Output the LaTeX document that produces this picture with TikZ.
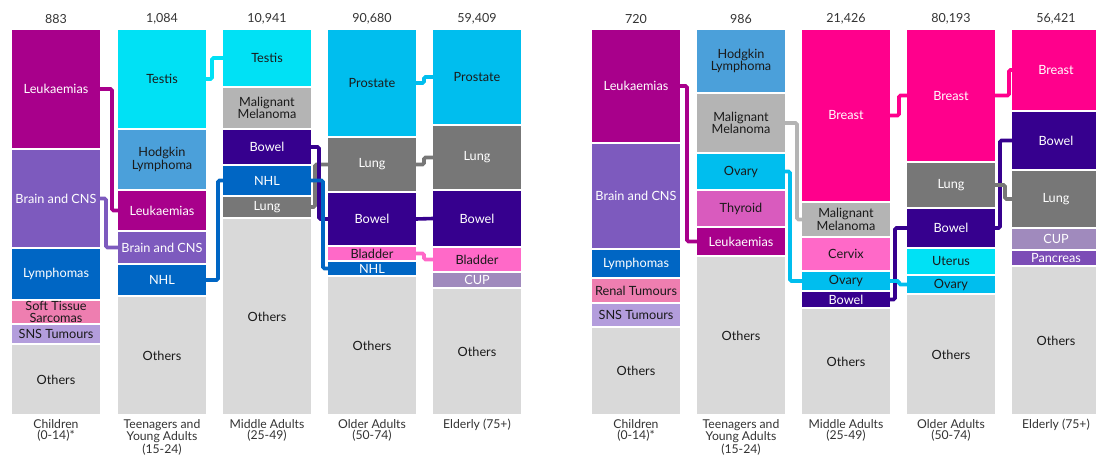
\documentclass[tikz,border=0pt]{standalone}
\usepackage{fontspec}
\setmainfont{Lato}
\usetikzlibrary{calc}
\pgfdeclarelayer{background}
\pgfsetlayers{background,main}
\definecolor{cLeuk}{HTML}{A8008B}
\definecolor{cBrain}{HTML}{7D5ABE}
\definecolor{cNHL}{HTML}{0066C4}
\definecolor{cSoft}{HTML}{EE7EB0}
\definecolor{cSNS}{HTML}{B39DDC}
\definecolor{cOth}{HTML}{D9D9D9}
\definecolor{cTestis}{HTML}{00E1F5}
\definecolor{cHodg}{HTML}{4BA0DA}
\definecolor{cMM}{HTML}{B4B4B4}
\definecolor{cBowel}{HTML}{36008E}
\definecolor{cLung}{HTML}{777777}
\definecolor{cProst}{HTML}{00BEEE}
\definecolor{cBlad}{HTML}{FF69C8}
\definecolor{cCUP}{HTML}{A08ABD}
\definecolor{cThyr}{HTML}{D95BBE}
\definecolor{cBreast}{HTML}{FF008C}
\definecolor{cPanc}{HTML}{7C4DB6}
\definecolor{cTxt}{HTML}{1A1A1A}
\definecolor{cNum}{HTML}{333333}
\tikzset{
  segbox/.style={rectangle, draw=none, inner sep=0pt, outer sep=0pt, minimum width=88pt, anchor=north west},
  seglbl/.style={inner sep=0pt, align=center, font=\fontsize{12.7}{10.5}\selectfont},
  cn/.style={line width=3.6pt, rounded corners=1.5pt},
  total/.style={inner sep=0pt, font=\fontsize{12.5}{14}\selectfont, text=cNum},
  grp/.style={anchor=north, inner sep=0pt, align=center, font=\fontsize{12.2}{11}\selectfont, text=cNum},
}
\newcommand{\seg}[7]{%
  \node[segbox, fill=#5, minimum height={#4pt-#3pt}] (#1) at (#2,#3) {};
  \node[seglbl, text=#6] (#1t) at (#1.center) {#7};}
\begin{document}
\begin{tikzpicture}[x=1pt,y=-1pt]
\useasboundingbox (0,0) rectangle (1096,455);
% ---------- left panel ----------
\seg{a1leuk}{12}{30}{148}{cLeuk}{white}{Leukaemias}
\seg{a1brain}{12}{150}{247}{cBrain}{white}{Brain and CNS}
\seg{a1lymph}{12}{249}{299}{cNHL}{white}{Lymphomas}
\seg{a1soft}{12}{301}{323}{cSoft}{cTxt}{Soft Tissue\\[0.8pt]Sarcomas}
\seg{a1sns}{12}{325}{343}{cSNS}{cTxt}{SNS Tumours}
\seg{a1oth}{12}{345}{414}{cOth}{cTxt}{Others}

\seg{a2testis}{118}{30}{128}{cTestis}{cTxt}{Testis}
\seg{a2hodg}{118}{130}{189}{cHodg}{cTxt}{Hodgkin\\Lymphoma}
\seg{a2leuk}{118}{191}{230}{cLeuk}{white}{Leukaemias}
\seg{a2brain}{118}{232}{263}{cBrain}{white}{Brain and CNS}
\seg{a2nhl}{118}{265}{295}{cNHL}{white}{NHL}
\seg{a2oth}{118}{297}{414}{cOth}{cTxt}{Others}

\seg{a3testis}{223}{30}{86}{cTestis}{cTxt}{Testis}
\seg{a3mm}{223}{88}{128}{cMM}{cTxt}{Malignant\\Melanoma}
\seg{a3bowel}{223}{130}{164}{cBowel}{white}{Bowel}
\seg{a3nhl}{223}{166}{195}{cNHL}{white}{NHL}
\seg{a3lung}{223}{197}{217}{cLung}{white}{Lung}
\seg{a3oth}{223}{219}{414}{cOth}{cTxt}{Others}

\seg{a4prost}{328}{30}{136}{cProst}{cTxt}{Prostate}
\seg{a4lung}{328}{138}{191}{cLung}{white}{Lung}
\seg{a4bowel}{328}{193}{245}{cBowel}{white}{Bowel}
\seg{a4blad}{328}{247}{260}{cBlad}{cTxt}{Bladder}
\seg{a4nhl}{328}{262}{275}{cNHL}{white}{NHL}
\seg{a4oth}{328}{277}{414}{cOth}{cTxt}{Others}

\seg{a5prost}{433}{30}{124}{cProst}{cTxt}{Prostate}
\seg{a5lung}{433}{126}{189}{cLung}{white}{Lung}
\seg{a5bowel}{433}{191}{246}{cBowel}{white}{Bowel}
\seg{a5blad}{433}{248}{271}{cBlad}{cTxt}{Bladder}
\seg{a5cup}{433}{273}{287}{cCUP}{white}{CUP}
\seg{a5oth}{433}{289}{414}{cOth}{cTxt}{Others}

% ---------- right panel ----------
\seg{b1leuk}{592}{30}{142}{cLeuk}{white}{Leukaemias}
\seg{b1brain}{592}{144}{248}{cBrain}{white}{Brain and CNS}
\seg{b1lymph}{592}{250}{277}{cNHL}{white}{Lymphomas}
\seg{b1renal}{592}{279}{302}{cSoft}{cTxt}{Renal Tumours}
\seg{b1sns}{592}{304}{326}{cSNS}{cTxt}{SNS Tumours}
\seg{b1oth}{592}{328}{414}{cOth}{cTxt}{Others}

\seg{b2hodg}{697}{30}{92}{cHodg}{cTxt}{Hodgkin\\Lymphoma}
\seg{b2mm}{697}{94}{152}{cMM}{cTxt}{Malignant\\Melanoma}
\seg{b2ovary}{697}{154}{189}{cProst}{cTxt}{Ovary}
\seg{b2thyr}{697}{191}{226}{cThyr}{cTxt}{Thyroid}
\seg{b2leuk}{697}{228}{255}{cLeuk}{white}{Leukaemias}
\seg{b2oth}{697}{257}{414}{cOth}{cTxt}{Others}

\seg{b3breast}{802}{30}{201}{cBreast}{white}{Breast}
\seg{b3mm}{802}{203}{236}{cMM}{cTxt}{Malignant\\Melanoma}
\seg{b3cervix}{802}{238}{270}{cBlad}{cTxt}{Cervix}
\seg{b3ovary}{802}{272}{290}{cProst}{cTxt}{Ovary}
\seg{b3bowel}{802}{292}{307}{cBowel}{white}{Bowel}
\seg{b3oth}{802}{309}{414}{cOth}{cTxt}{Others}

\seg{b4breast}{907}{30}{161}{cBreast}{white}{Breast}
\seg{b4lung}{907}{163}{207}{cLung}{white}{Lung}
\seg{b4bowel}{907}{209}{247}{cBowel}{white}{Bowel}
\seg{b4uterus}{907}{249}{274}{cTestis}{cTxt}{Uterus}
\seg{b4ovary}{907}{276}{293}{cProst}{cTxt}{Ovary}
\seg{b4oth}{907}{295}{414}{cOth}{cTxt}{Others}

\seg{b5breast}{1012}{30}{110}{cBreast}{white}{Breast}
\seg{b5bowel}{1012}{112}{169}{cBowel}{white}{Bowel}
\seg{b5lung}{1012}{171}{227}{cLung}{white}{Lung}
\seg{b5cup}{1012}{229}{249}{cCUP}{white}{CUP}
\seg{b5panc}{1012}{251}{265}{cPanc}{white}{Pancreas}
\seg{b5oth}{1012}{267}{414}{cOth}{cTxt}{Others}

% ---------- totals ----------
\node[total] (t1) at (56,19) {883};
\node[total] (t2) at (162,19) {1,084};
\node[total] (t3) at (267,19) {10,941};
\node[total] (t4) at (372,19) {90,680};
\node[total] (t5) at (477,19) {59,409};
\node[total] (t6) at (636,19) {720};
\node[total] (t7) at (741,19) {986};
\node[total] (t8) at (846,19) {21,426};
\node[total] (t9) at (951,19) {80,193};
\node[total] (t10) at (1056,19) {56,421};

% ---------- group labels ----------
\node[grp] (g1) at (56,419) {Children\\(0-14)*};
\node[grp] (g2) at (162,419) {Teenagers and\\Young Adults\\(15-24)};
\node[grp] (g3) at (267,419) {Middle Adults\\(25-49)};
\node[grp] (g4) at (372,419) {Older Adults\\(50-74)};
\node[grp] (g5) at (477,419) {Elderly (75+)};
\node[grp] (g6) at (636,419) {Children\\(0-14)*};
\node[grp] (g7) at (741,419) {Teenagers and\\Young Adults\\(15-24)};
\node[grp] (g8) at (846,419) {Middle Adults\\(25-49)};
\node[grp] (g9) at (951,419) {Older Adults\\(50-74)};
\node[grp] (g10) at (1056,419) {Elderly (75+)};

% ---------- connectors ----------
\begin{pgfonlayer}{background}
\draw[cn, cLeuk] (a1leuk.east) -- ($(a1leuk.east)+(12,0)$) |- (a2leuk.west);
\draw[cn, cBrain] (a1brain.east) -- ($(a1brain.east)+(6,0)$) |- (a2brain.west);
\draw[cn, cTestis] (a2testis.east) -- ($(a2testis.east)+(6,0)$) |- (a3testis.west);
\draw[cn, cNHL] (a2nhl.east) -- ($(a2nhl.east)+(12,0)$) |- (a3nhl.west);
\draw[cn, cLung] (a3lung.east) -- ($(a3lung.east)+(4,0)$) |- (a4lung.west);
\draw[cn, cBowel] (a3bowel.east) -- ($(a3bowel.east)+(8,0)$) |- (a4bowel.west);
\draw[cn, cNHL] (a3nhl.east) -- ($(a3nhl.east)+(12,0)$) |- (a4nhl.west);
\draw[cn, cProst] (a4prost.east) -- ($(a4prost.east)+(8,0)$) |- (a5prost.west);
\draw[cn, cLung] (a4lung.east) -- ($(a4lung.east)+(8,0)$) |- (a5lung.west);
\draw[cn, cBowel] (a4bowel.east) -- (a5bowel.west);
\draw[cn, cBlad] (a4blad.east) -- ($(a4blad.east)+(8,0)$) |- (a5blad.west);

\draw[cn, cLeuk] (b1leuk.east) -- ($(b1leuk.east)+(7,0)$) |- (b2leuk.west);
\draw[cn, cMM] (b2mm.east) -- ($(b2mm.east)+(12,0)$) |- (b3mm.west);
\draw[cn, cProst] (b2ovary.east) -- ($(b2ovary.east)+(5,0)$) |- (b3ovary.west);
\draw[cn, cBreast] (b3breast.east) -- ($(b3breast.east)+(9,0)$) |- (b4breast.west);
\draw[cn, cBowel] (b3bowel.east) -- ($(b3bowel.east)+(5,0)$) |- (b4bowel.west);
\draw[cn, cProst] (b3ovary.east) -- ($(b3ovary.east)+(9,0)$) |- (b4ovary.west);
\draw[cn, cBreast] (b4breast.east) -- ($(b4breast.east)+(14,0)$) |- (b5breast.west);
\draw[cn, cBowel] (b4bowel.east) -- ($(b4bowel.east)+(5,0)$) |- (b5bowel.west);
\draw[cn, cLung] (b4lung.east) -- ($(b4lung.east)+(10,0)$) |- (b5lung.west);
\end{pgfonlayer}
\end{tikzpicture}
\end{document}
